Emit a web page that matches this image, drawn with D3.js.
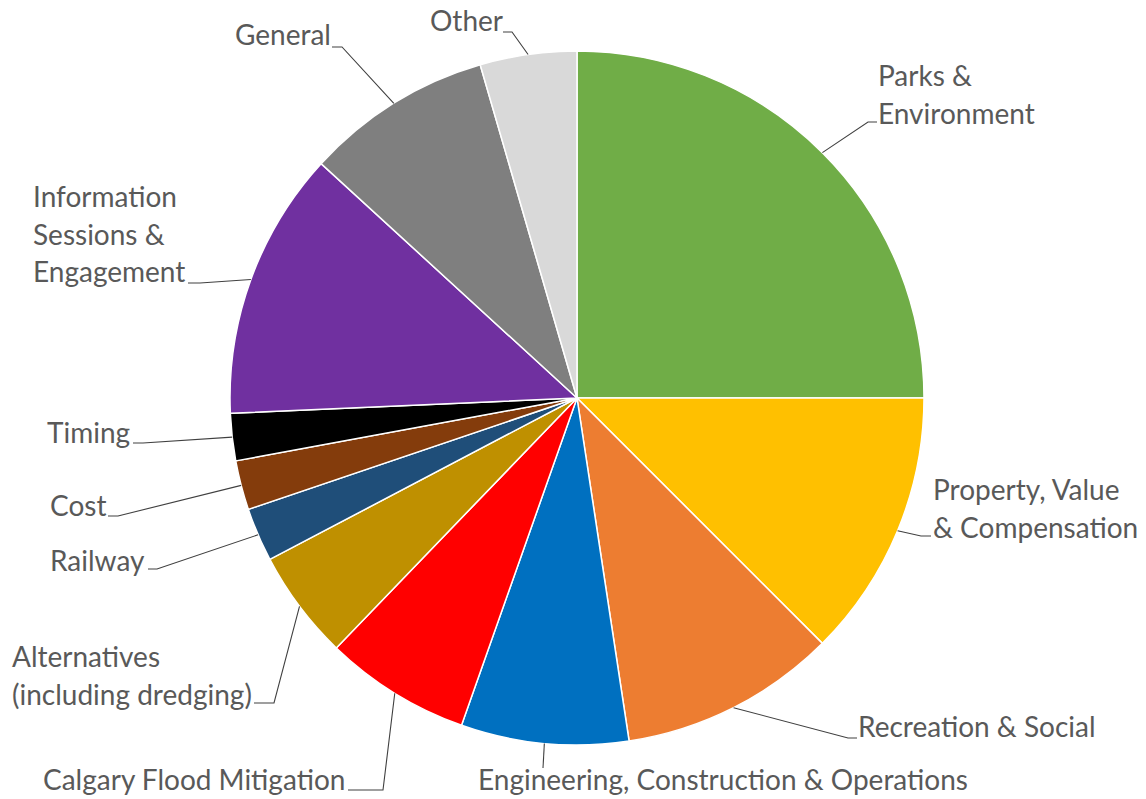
<!DOCTYPE html>
<html>
<head>
<meta charset="utf-8">
<script src="https://cdn.jsdelivr.net/npm/d3@7"></script>
<style>
  body { margin: 0; background: #fff; }
  svg { display: block; }
  .lbl { font-family: Lato, "Open Sans", sans-serif; fill: #595959; }
</style>
</head>
<body>
<svg id="chart" width="1146" height="799"></svg>
<script>
// categories, clockwise from 12 o'clock
const categories = [
  "Parks & Environment",
  "Property, Value & Compensation",
  "Recreation & Social",
  "Engineering, Construction & Operations",
  "Calgary Flood Mitigation",
  "Alternatives (including dredging)",
  "Railway",
  "Cost",
  "Timing",
  "Information Sessions & Engagement",
  "General",
  "Other"
]
// share of comments (%)
const values = [25.0, 12.5, 10.1, 7.8, 6.8, 5.1, 2.5, 2.3, 2.2, 12.5, 8.7, 4.5]
const colors = ["#70ad47", "#ffc000", "#ed7d31", "#0070c0", "#ff0000", "#bf9000",
  "#1f4e79", "#843c0c", "#000000", "#7030a0", "#7f7f7f", "#d9d9d9"]

// how the label text is broken into lines
const labelLines = [
  ["Parks &", "Environment"],
  ["Property, Value", "& Compensation"],
  ["Recreation & Social"],
  ["Engineering, Construction & Operations"],
  ["Calgary Flood Mitigation"],
  ["Alternatives", "(including dredging)"],
  ["Railway"],
  ["Cost"],
  ["Timing"],
  ["Information", "Sessions &", "Engagement"],
  ["General"],
  ["Other"]
]

const W = 1146, H = 799
const cx = 577, cy = 398, R = 347
const fontSize = 28, lineH = 37.5

// label placement: text position + leader knee/tail (x, y)
const labelLayout = [
  { x: 878, y: 86, anchor: "start", knee: [868, 122], tail: [877, 122] },
  { x: 933, y: 500, anchor: "start", knee: [921, 536], tail: [931, 536] },
  { x: 858, y: 737, anchor: "start", knee: [848, 738], tail: [857, 738] },
  { x: 723, y: 790, anchor: "middle", knee: [543, 768], tail: [543, 768] },
  { x: 43, y: 790, anchor: "start", knee: [383, 790], tail: [348, 790] },
  { x: 12, y: 667, anchor: "start", knee: [274, 703], tail: [254, 703] },
  { x: 50, y: 571, anchor: "start", knee: [157, 569], tail: [148, 569] },
  { x: 50, y: 516, anchor: "start", knee: [118, 516], tail: [108, 516] },
  { x: 47, y: 443, anchor: "start", knee: [143, 443], tail: [133, 443] },
  { x: 33, y: 207, anchor: "start", knee: [200, 283], tail: [188, 283] },
  { x: 235, y: 45, anchor: "start", knee: [342, 47], tail: [332, 47] },
  { x: 430, y: 31, anchor: "start", knee: [512, 32], tail: [503, 32] }
]

const svg = d3.select("#chart")
const g = svg.append("g").attr("transform", `translate(${cx},${cy})`)

const pie = d3.pie().sort(null).value(d => d)
const arcs = pie(values)

const arc = d3.arc().innerRadius(0).outerRadius(R)
// zero-width ring on the rim, its centroid is where the leader starts
const rim = d3.arc().innerRadius(R).outerRadius(R)

g.selectAll("path.slice")
  .data(arcs)
  .enter()
  .append("path")
  .attr("class", "slice")
  .attr("d", arc)
  .attr("fill", (d, i) => colors[i])
  .attr("stroke", "#fff")
  .attr("stroke-width", 1.5)
  .attr("stroke-linejoin", "round")

// leader lines
const line = d3.line()
arcs.forEach((d, i) => {
  let p0 = rim.centroid(d)
  let L = labelLayout[i]
  let pts = [[p0[0] + cx, p0[1] + cy], L.knee, L.tail]
  svg.append("path")
    .attr("d", line(pts))
    .attr("fill", "none")
    .attr("stroke", "#404040")
    .attr("stroke-width", 1.1)
})

// labels
labelLayout.forEach((L, i) => {
  let t = svg.append("text")
    .attr("class", "lbl")
    .attr("x", L.x)
    .attr("y", L.y)
    .attr("text-anchor", L.anchor)
    .style("font-size", fontSize + "px")
  labelLines[i].forEach((s, k) => {
    t.append("tspan")
      .attr("x", L.x)
      .attr("y", L.y + k * lineH)
      .text(s)
  })
})
</script>
</body>
</html>
